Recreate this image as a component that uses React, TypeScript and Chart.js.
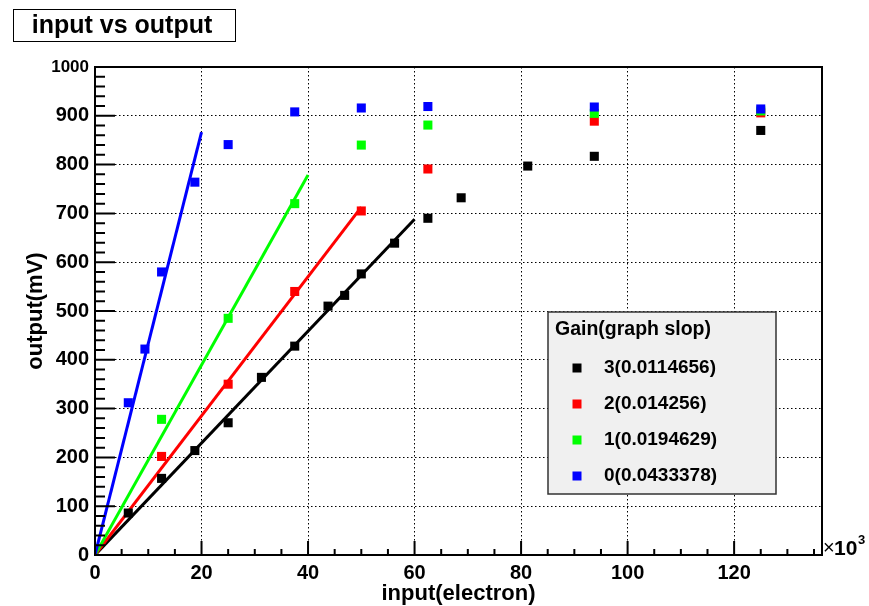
import React, { useEffect, useRef } from "react";
import { Chart, registerables } from "chart.js";

Chart.register(...registerables);

// ---- data (input in units of 10^3 electrons, output in mV) ----
const seriesNames = ["3(0.0114656)", "2(0.014256)", "1(0.0194629)", "0(0.0433378)"];
const seriesColors = ["#000000", "#ff0000", "#00ff00", "#0000ff"];
const slopes = [0.0114656, 0.014256, 0.0194629, 0.0433378];
const fitEnds = [60, 50, 40, 20];

const blackX = [6.25, 12.5, 18.75, 25, 31.25, 37.5, 43.75, 46.875, 50, 56.25, 62.5, 68.75, 81.25, 93.75, 125];
const blackY = [86, 157, 214, 271, 364, 428, 510, 532, 576, 639, 690, 732, 797, 817, 870];
const redX = [12.5, 25, 37.5, 50, 62.5, 93.75, 125];
const redY = [202, 350, 540, 705, 791, 889, 906];
const greenX = [12.5, 25, 37.5, 50, 62.5, 93.75, 125];
const greenY = [278, 485, 720, 840, 881, 905, 910];
const blueX = [6.25, 9.375, 12.5, 18.75, 25, 37.5, 50, 62.5, 93.75, 125];
const blueY = [312, 422, 580, 764, 841, 908, 916, 919, 918, 914];

const xTickLabels = [0, 20, 40, 60, 80, 100, 120];
const yTickLabels = [0, 100, 200, 300, 400, 500, 600, 700, 800, 900, 1000];

const chartTitle = "input vs output";
const xTitle = "input(electron)";
const yTitle = "output(mV)";
const legendTitle = "Gain(graph slop)";

const FONT = '"Liberation Sans", Arial, Helvetica, sans-serif';

const toPts = (xs: number[], ys: number[]) => xs.map((x, i) => ({ x, y: ys[i] }));

const decorPlugin = {
  id: "decor",
  beforeDraw(chart: any) {
    const ctx = chart.ctx;
    ctx.save();
    ctx.fillStyle = "#ffffff";
    ctx.fillRect(0, 0, chart.width, chart.height);
    ctx.restore();
  },
  afterDraw(chart: any) {
    const ctx = chart.ctx;
    const xs = chart.scales.x;
    const ys = chart.scales.y;
    const { left, right, top, bottom } = chart.chartArea;
    ctx.save();
    // frame
    ctx.strokeStyle = "#000";
    ctx.lineWidth = 2;
    ctx.strokeRect(left, top, right - left, bottom - top);
    // ticks (inside)
    ctx.lineWidth = 2;
    ctx.beginPath();
    for (let v = 0; v <= xs.max + 1e-9; v += 5) {
      const px = xs.getPixelForValue(v);
      const len = v % 20 === 0 ? 14 : 6;
      ctx.moveTo(px, bottom);
      ctx.lineTo(px, bottom - len);
    }
    for (let v = 0; v <= ys.max + 1e-9; v += 20) {
      const py = ys.getPixelForValue(v);
      const len = v % 100 === 0 ? 20 : 10;
      ctx.moveTo(left, py);
      ctx.lineTo(left + len, py);
    }
    ctx.stroke();

    // axis titles
    ctx.fillStyle = "#000";
    ctx.font = `bold 22px ${FONT}`;
    ctx.textAlign = "center";
    ctx.textBaseline = "middle";
    ctx.fillText(xTitle, (left + right) / 2, 594);
    ctx.save();
    ctx.translate(36, (top + bottom) / 2);
    ctx.rotate(-Math.PI / 2);
    ctx.fillText(yTitle, 0, 0);
    ctx.restore();

    // x10^3
    ctx.textAlign = "left";
    ctx.textBaseline = "alphabetic";
    ctx.font = `20px ${FONT}`;
    ctx.fillText("\u00d7", 823, 554);
    ctx.font = `bold 21px ${FONT}`;
    ctx.fillText("10", 834, 555);
    ctx.font = `bold 13px ${FONT}`;
    ctx.fillText("3", 858, 544);

    // title box
    ctx.lineWidth = 1;
    ctx.strokeRect(13.5, 9.5, 222, 32);
    ctx.font = `bold 25px ${FONT}`;
    ctx.textAlign = "center";
    ctx.textBaseline = "middle";
    ctx.fillText(chartTitle, 122, 26);

    // legend box
    ctx.fillStyle = "#f0f0f0";
    ctx.fillRect(548, 312, 228, 182);
    ctx.strokeStyle = "#333";
    ctx.lineWidth = 1.5;
    ctx.strokeRect(548, 312, 228, 182);
    ctx.fillStyle = "#000";
    ctx.font = `bold 19.5px ${FONT}`;
    ctx.textAlign = "left";
    ctx.fillText(legendTitle, 555, 330);
    ctx.font = `bold 19px ${FONT}`;
    const rowY = [368, 404, 440, 476];
    seriesNames.forEach((name, i) => {
      ctx.fillStyle = seriesColors[i];
      ctx.fillRect(577 - 4.5, rowY[i] - 4.5, 9, 9);
      ctx.fillStyle = "#000";
      ctx.fillText(name, 604, rowY[i]);
    });
    ctx.restore();
  },
};

export default function App() {
  const ref = useRef<HTMLCanvasElement | null>(null);
  useEffect(() => {
    if (!ref.current) return;
    const scatterSets = [
      [blackX, blackY],
      [redX, redY],
      [greenX, greenY],
      [blueX, blueY],
    ].map(([xs, ys], i) => ({
      type: "scatter" as const,
      label: seriesNames[i],
      data: toPts(xs as number[], ys as number[]),
      backgroundColor: seriesColors[i],
      borderColor: seriesColors[i],
      borderWidth: 0,
      pointStyle: "rect",
      pointRadius: 6.4,
      showLine: false,
      order: 10 - i,
    }));
    const fitSets = slopes.map((s, i) => ({
      type: "line" as const,
      label: "fit " + seriesNames[i],
      data: [
        { x: 0, y: 0 },
        { x: fitEnds[i], y: s * 1000 * fitEnds[i] },
      ],
      borderColor: seriesColors[i],
      borderWidth: 3,
      pointRadius: 0,
      fill: false,
      order: 20 - i,
    }));
    const chart = new Chart(ref.current, {
      type: "scatter",
      data: { datasets: [...scatterSets, ...fitSets] as any },
      plugins: [decorPlugin],
      options: {
        animation: false,
        responsive: false,
        maintainAspectRatio: false,
        layout: { padding: { top: 67, right: 47, left: 0, bottom: 0 } },
        plugins: { legend: { display: false }, tooltip: { enabled: false }, title: { display: false } },
        scales: {
          x: {
            type: "linear",
            min: 0,
            max: 136.5,
            afterFit: (s: any) => {
              s.height = 51;
            },
            afterBuildTicks: (s: any) => {
              s.ticks = xTickLabels.map((v) => ({ value: v }));
            },
            ticks: {
              color: "#000",
              font: { family: FONT, size: 20, weight: "bold" },
              padding: 6,
              maxRotation: 0,
              autoSkip: false,
              callback: (v: any) => String(v),
            },
            grid: { color: "#000", lineWidth: 1, drawTicks: false },
            border: { display: false, dash: [1.5, 2.5] },
          },
          y: {
            type: "linear",
            min: 0,
            max: 1000,
            afterFit: (s: any) => {
              s.width = 95;
            },
            afterBuildTicks: (s: any) => {
              s.ticks = yTickLabels.map((v) => ({ value: v }));
            },
            ticks: {
              color: "#000",
              font: (c: any) => ({ family: FONT, size: c.tick && c.tick.value === 1000 ? 17 : 20, weight: "bold" }),
              padding: 6,
              autoSkip: false,
              callback: (v: any) => String(v),
            },
            grid: { color: "#000", lineWidth: 1, drawTicks: false },
            border: { display: false, dash: [1.5, 2.5] },
          },
        },
      } as any,
    });
    return () => chart.destroy();
  }, []);
  return (
    <div style={{ position: "fixed", left: 0, top: 0, width: 869, height: 606, background: "#fff" }}>
      <canvas ref={ref} width={869} height={606} style={{ width: 869, height: 606, display: "block" }} />
    </div>
  );
}
